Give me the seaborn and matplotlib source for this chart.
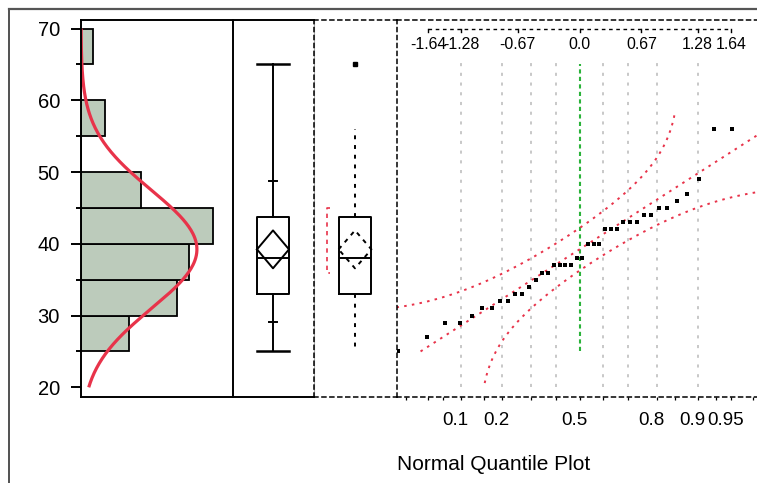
import numpy as np
import matplotlib
matplotlib.use("Agg")
import matplotlib.pyplot as plt
from matplotlib.lines import Line2D
import seaborn as sns
from statistics import NormalDist

# data
values = [25, 27, 29, 29, 30, 31, 31, 32, 32, 33, 33, 34, 35, 36, 36, 37, 37, 37, 37, 38,
          38, 40, 40, 40, 42, 42, 42, 43, 43, 43, 44, 44, 45, 45, 46, 47, 49, 56, 56, 65]
bin_edges = [25, 30, 35, 40, 45, 50, 55, 60, 65, 70]
y_ticks = [20, 30, 40, 50, 60, 70]
y_minor = [25, 35, 45, 55, 65]
shortest_half = [36, 45]
top_z = [-1.64, -1.28, -0.67, 0.0, 0.67, 1.28, 1.64]
top_labels = ["-1.64", "-1.28", "-0.67", "0.0", "0.67", "1.28", "1.64"]
grid_probs = [0.1, 0.2, 0.3, 0.4, 0.5, 0.6, 0.7, 0.8, 0.9]
prob_ticks = [0.1, 0.2, 0.5, 0.8, 0.9, 0.95]
prob_labels = ["0.1", "0.2", "0.5", "0.8", "0.9", "0.95"]
prob_minor = [0.03, 0.05, 0.07, 0.15, 0.3, 0.4, 0.6, 0.7, 0.85, 0.93, 0.97]

plt.rcParams['font.family'] = ['Liberation Sans', 'DejaVu Sans']

vals = np.array(sorted(values), dtype=float)
n = len(vals)
mean = vals.mean()
sd = vals.std(ddof=1)
nd = NormalDist()
q10, q1, med, q3, q90 = np.quantile(vals, [0.1, 0.25, 0.5, 0.75, 0.9], method='weibull')
se = sd / np.sqrt(n)
ci_lo, ci_hi = mean - 2.0227 * se, mean + 2.0227 * se
iqr = q3 - q1
whi_lo = vals[vals >= q1 - 1.5 * iqr].min()
whi_hi = vals[vals <= q3 + 1.5 * iqr].max()
fliers = vals[(vals < whi_lo) | (vals > whi_hi)]

W, H = 757, 483
fig = plt.figure(figsize=(W / 100, H / 100), dpi=100)

TOP, BOT = 20, 396.5
def pos(x0, x1):
    return [x0 / W, 1 - BOT / H, (x1 - x0) / W, (BOT - TOP) / H]

ylim = (18.72, 71.19)
RED = '#E8334A'
dash = (0, (2.6, 2.6))
LW = 1.4

# outer frame
fig.add_artist(Line2D([8.5 / W, 8.5 / W], [0, 1 - 9 / H], transform=fig.transFigure, color='#333333', lw=1.2))
fig.add_artist(Line2D([8.5 / W, 1], [1 - 9 / H, 1 - 9 / H], transform=fig.transFigure, color='#555555', lw=1.6))

# ---- histogram ----
ax_h = fig.add_axes(pos(81, 232.5))
sns.histplot(y=vals, bins=bin_edges, ax=ax_h, color='#BCCBBB', edgecolor='black',
             linewidth=1.3, alpha=1)
yy = np.linspace(20, 70, 300)
dens = np.array([NormalDist(mean, sd).pdf(v) for v in yy]) * n * 5
ax_h.plot(dens, yy, color=RED, lw=2.3, solid_capstyle='butt')
ax_h.set_xlim(0, 151.5 / 12)
ax_h.set_ylim(*ylim)
ax_h.set_xlabel("")
ax_h.set_ylabel("")
ax_h.set_xticks([])
ax_h.set_yticks(y_ticks)
ax_h.set_yticks(y_minor, minor=True)
ax_h.tick_params(axis='y', which='major', length=7.2, width=LW, pad=8, labelsize=14.5)
ax_h.tick_params(axis='y', which='minor', length=3.6, width=LW)
for s in ax_h.spines.values():
    s.set_linewidth(LW)

# ---- quantile box plot ----
ax_b1 = fig.add_axes(pos(232.5, 313.5))
ax_b1.patch.set_visible(False)
bw = 0.395
lp = dict(color='black', lw=LW)
ax_b1.bxp([dict(med=med, q1=q1, q3=q3, whislo=vals.min(), whishi=vals.max(), fliers=[])],
          positions=[0], widths=bw, showfliers=False, manage_ticks=False,
          boxprops=lp, whiskerprops=lp, capprops=dict(color='black', lw=1.8),
          medianprops=lp, capwidths=bw)
for q in (q10, q90):
    ax_b1.plot([-0.045, 0.045], [q, q], color='black', lw=LW)
ax_b1.plot([-bw / 2, 0, bw / 2, 0, -bw / 2], [mean, ci_hi, mean, ci_lo, mean], color='black', lw=LW)
ax_b1.set_xlim(-0.5, 0.5)
ax_b1.set_ylim(*ylim)
ax_b1.set_xticks([])
ax_b1.set_yticks([])
ax_b1.spines['left'].set_visible(False)
ax_b1.spines['right'].set_color('#AAAAAA')
ax_b1.spines['right'].set_linewidth(0.8)
for k in ('top', 'bottom'):
    ax_b1.spines[k].set_linewidth(LW)

# ---- outlier box plot ----
ax_b2 = fig.add_axes(pos(313.5, 396.5))
ax_b2.patch.set_visible(False)
ax_b2.bxp([dict(med=med, q1=q1, q3=q3, whislo=whi_lo, whishi=whi_hi, fliers=fliers)],
          positions=[0], widths=bw, manage_ticks=False, showcaps=False,
          boxprops=lp, medianprops=lp,
          whiskerprops=dict(color='black', lw=LW, linestyle=(0, (2.0, 3.0))),
          flierprops=dict(marker='s', markersize=2.2, markerfacecolor='black',
                          markeredgecolor='black', linestyle='none'))
ax_b2.plot([-bw / 2, 0, bw / 2, 0, -bw / 2], [mean, ci_hi, mean, ci_lo, mean],
           color='black', lw=LW, linestyle=(0, (2.2, 2.6)))
bx = -0.34
ax_b2.plot([bx + 0.04, bx, bx, bx + 0.04], [shortest_half[1], shortest_half[1], shortest_half[0], shortest_half[0]],
           color=RED, lw=1.2, linestyle=(0, (2.6, 2.6)))
ax_b2.set_xlim(-0.5, 0.5)
ax_b2.set_ylim(*ylim)
ax_b2.set_xticks([])
ax_b2.set_yticks([])
ax_b2.spines['right'].set_visible(False)
for k in ('top', 'bottom', 'left'):
    ax_b2.spines[k].set_linestyle(dash)
    ax_b2.spines[k].set_linewidth(1.1)

# ---- normal quantile plot ----
zc, zs = 579.5, 92.3
ax_q = fig.add_axes(pos(396.5, 763))
ax_q.patch.set_visible(False)
ax_q.set_xlim((396.5 - zc) / zs, (763 - zc) / zs)
ax_q.set_ylim(*ylim)

for p in grid_probs:
    z = nd.inv_cdf(p)
    if p == 0.5:
        continue
    ax_q.plot([z, z], [20, 65.5], color='#C8C8C8', lw=1.4, linestyle=(0, (1.6, 3.4)))
ax_q.plot([0, 0], [vals.min(), vals.max()], color='#2BB33A', lw=1.5, linestyle=(0, (2.0, 1.6)))

zz = np.linspace(*ax_q.get_xlim(), 400)
pp = np.array([nd.cdf(z) for z in zz])
D = 0.886 / np.sqrt(n)
up = np.array([mean + sd * nd.inv_cdf(p + D) if p + D <= 0.99 else np.nan for p in pp])
lo = np.array([mean + sd * nd.inv_cdf(p - D) if p - D >= 0.01 else np.nan for p in pp])
red_ls = (0, (1.3, 2.7))
ax_q.plot(zz, up, color=RED, lw=1.4, linestyle=red_ls)
ax_q.plot(zz, lo, color=RED, lw=1.4, linestyle=red_ls)
zl = np.linspace((vals.min() - mean) / sd, (vals.max() - mean) / sd, 100)
ax_q.plot(zl, mean + sd * zl, color=RED, lw=1.4, linestyle=red_ls)

zq = [nd.inv_cdf(i / (n + 1)) for i in range(1, n + 1)]
sns.scatterplot(x=zq, y=vals, ax=ax_q, marker='s', s=10, color='black', linewidth=0, zorder=5)
ax_q.set_xlabel("")
ax_q.set_ylabel("")

# top z-scale
ax_q.plot([top_z[0], top_z[-1]], [69.93, 69.93], color='black', lw=1.0, linestyle=(0, (2.6, 2.6)))
for z, lab in zip(top_z, top_labels):
    ax_q.plot([z, z], [69.93, 69.5], color='black', lw=1.0)
    ax_q.text(z, 67.8, lab, ha='center', va='center', fontsize=11.4)

# bottom probability scale
ax_q.set_yticks([])
ax_q.set_xticks([nd.inv_cdf(p) for p in prob_ticks])
ax_q.set_xticklabels([])
ax_q.set_xticks([nd.inv_cdf(p) for p in prob_minor], minor=True)
ax_q.tick_params(axis='x', which='both', length=2.5, width=0.9, direction='out')
for z, lab in zip(ax_q.get_xticks(), prob_labels):
    ax_q.annotate(lab, xy=(z, 0), xycoords=('data', 'axes fraction'), xytext=(-4, -17),
                  textcoords='offset points', ha='center', va='center', fontsize=13.5)
ax_q.spines['right'].set_visible(False)
for k in ('top', 'bottom', 'left'):
    ax_q.spines[k].set_linestyle(dash)
    ax_q.spines[k].set_linewidth(1.1)

fig.text(397 / W, 1 - 465 / H, "Normal Quantile Plot", ha='left', va='center', fontsize=15)

fig.savefig("out.png", dpi=100)
